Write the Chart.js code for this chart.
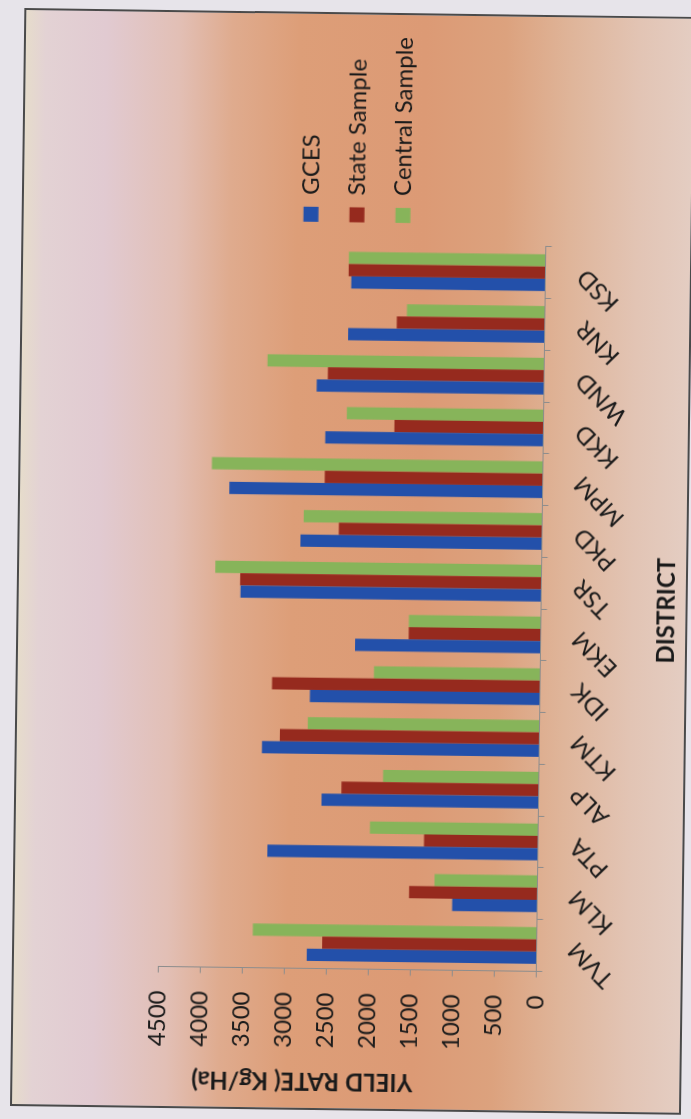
<!DOCTYPE html>
<html lang="en">
<head>
    <meta charset="UTF-8">
    <title>Yield Rate by District</title>
    <script src="https://cdn.jsdelivr.net/npm/chart.js"></script>
    <style>
        html, body {
            margin: 0;
            padding: 0;
            width: 691px;
            height: 1119px;
            overflow: hidden;
            background: #e7e4ea;
        }
        /* the chart is drawn upright and then turned a quarter turn, like the scanned page */
        .frame {
            position: absolute;
            left: 10px;
            top: 1106px;
            width: 1098px;
            height: 671px;
            box-sizing: border-box;
            border: 2px solid #4a4a4a;
            transform-origin: 0 0;
            transform: rotate(-89.25deg);
            background: linear-gradient(to bottom,
                #e6dccb 0%, #e3d2d4 3%, #e1cad1 12%, #e2bfb5 23%,
                #dfab8e 31%, #dd9e78 41%, #dc9a75 60%, #dca27e 72%,
                #dfb59a 82%, #e2c4b4 92%, #e4cdc2 100%);
        }
        canvas { display: block; }
    </style>
</head>
<body>
    <div class="frame">
        <canvas id="yieldChart" width="1094" height="667"></canvas>
    </div>

    <script>
        const districts = ['TVM', 'KLM', 'PTA', 'ALP', 'KTM', 'IDK', 'EKM', 'TSR', 'PKD', 'MPM', 'KKD', 'WND', 'KNR', 'KSD'];
        const gcesYield    = [2730, 1010, 3215, 2580, 3295, 2735, 2205, 3575, 2870, 3725, 2590, 2700, 2335, 2305];
        const stateYield   = [2550, 1525, 1355, 2345, 3085, 3185, 1570, 3580, 2415, 2590, 1770, 2570, 1760, 2340];
        const centralYield = [3375, 1225, 2000, 1850, 2755, 1975, 1570, 3880, 2835, 3935, 2340, 3290, 1640, 2340];
        const yieldTicks = { min: 0, max: 4500, step: 500 };

        const textColor = '#1a1a1a';
        const axisColor = '#8c8c8c';

        Chart.defaults.font.family = 'Lato';
        Chart.defaults.color = textColor;

        new Chart(document.getElementById('yieldChart'), {
            type: 'bar',
            data: {
                labels: districts,
                datasets: [
                    { label: 'GCES', data: gcesYield, backgroundColor: '#2350aa' },
                    { label: 'State Sample', data: stateYield, backgroundColor: '#962a1e' },
                    { label: 'Central Sample', data: centralYield, backgroundColor: '#87b45a' }
                ]
            },
            options: {
                responsive: false,
                animation: false,
                datasets: {
                    bar: { barPercentage: 1.0, categoryPercentage: 0.71, borderWidth: 0 }
                },
                layout: { padding: { top: 144, left: 0, right: 12, bottom: 0 } },
                plugins: {
                    tooltip: { enabled: false },
                    legend: {
                        position: 'right',
                        fullSize: false,
                        labels: {
                            boxWidth: 15,
                            boxHeight: 15,
                            padding: 22,
                            color: textColor,
                            font: { size: 24 }
                        }
                    }
                },
                scales: {
                    x: {
                        grid: { drawOnChartArea: false, tickLength: 6, color: axisColor },
                        border: { color: axisColor },
                        ticks: { autoSkip: false, minRotation: 45, maxRotation: 45, padding: 20, font: { size: 24 } },
                        title: {
                            display: true,
                            text: 'DISTRICT',
                            font: { size: 24, weight: 'bold' },
                            padding: { top: 2, bottom: 4 }
                        }
                    },
                    y: {
                        min: yieldTicks.min,
                        max: yieldTicks.max,
                        grid: { drawOnChartArea: false, tickLength: 6, color: axisColor },
                        border: { color: axisColor },
                        ticks: {
                            stepSize: yieldTicks.step,
                            padding: 18,
                            font: { size: 24 },
                            callback: v => String(v)
                        },
                        title: {
                            display: true,
                            text: 'YIELD RATE( Kg/Ha)\u00a0\u00a0\u00a0\u00a0\u00a0\u00a0',
                            align: 'end',
                            font: { size: 24, weight: 'bold' },
                            padding: { top: 13, bottom: 0 }
                        }
                    }
                }
            }
        });
    </script>
</body>
</html>
